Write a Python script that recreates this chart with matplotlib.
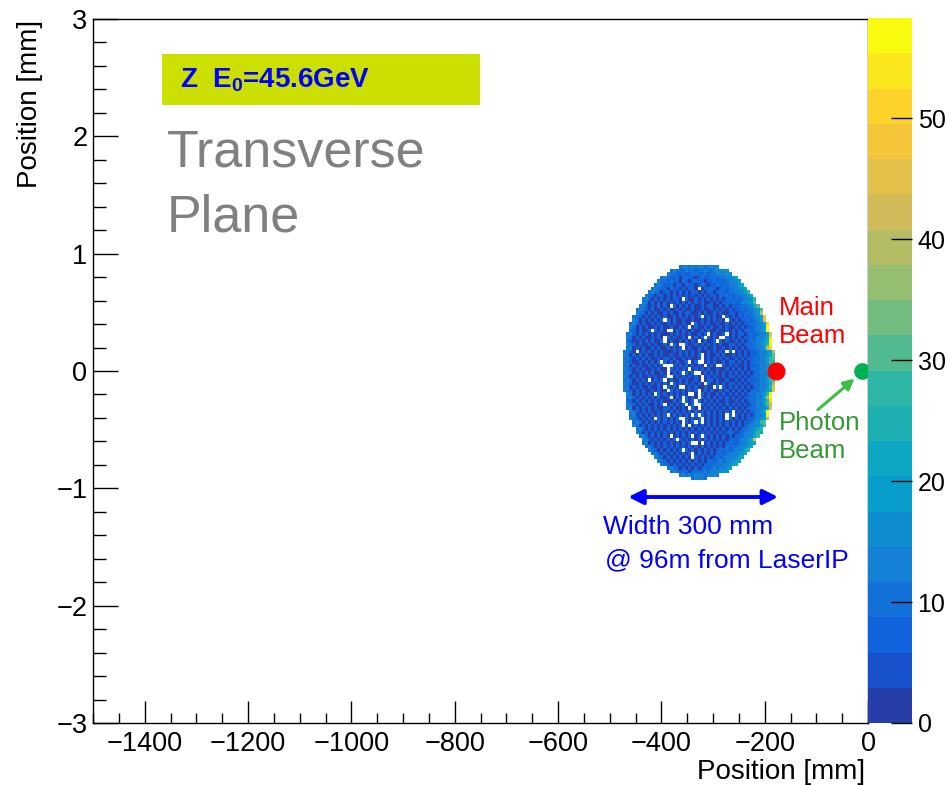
import numpy as np
import matplotlib
matplotlib.use('Agg')
import matplotlib.pyplot as plt
from matplotlib.colors import ListedColormap, BoundaryNorm, LinearSegmentedColormap
from matplotlib.patches import Rectangle

plt.rcParams['font.family'] = ['Liberation Sans', 'DejaVu Sans']
plt.rcParams['mathtext.fontset'] = 'custom'
plt.rcParams['mathtext.rm'] = 'Liberation Sans'
plt.rcParams['mathtext.bf'] = 'Liberation Sans:bold'

# ---------------- data ----------------
# 2D histogram binning (mm, mm)
x_edges = np.arange(-474, -173, 6)          # 49 columns of 6 mm
y_top, y_bin, n_rows = 0.90, 0.03, 61       # 61 rows of 0.03 mm, top row first

# cell code -> bin content ('.' = outside, '0' = empty bin)
code_values = {'.': 0, '0': 0, '1': 2, '2': 6.5, '3': 9.5, '4': 12, '5': 14, '6': 17,
               '7': 20, '8': 23, '9': 27, 'A': 32, 'B': 38, 'C': 44, 'D': 50, 'E': 56}

# bin contents read row by row (top -> bottom), 49 columns in 7 groups of 7
rows = [
    "....... ....... ....344 3434434 556.... ....... .......",
    "....... ....... .343324 3323343 345656. ....... .......",
    "....... ....... 4332232 2332332 3345566 ....... .......",
    "....... .....34 3223123 2212322 3323345 67..... .......",
    "....... ....433 2322132 1232212 2323234 567.... .......",
    "....... ...3432 2312213 2212321 2232334 4578... .......",
    "....... ..34322 1322121 2210122 3212323 34678.. .......",
    "....... .343212 2121312 1221212 2123223 345679. .......",
    "....... 4321221 2131212 1212121 2213232 2334578 .......",
    "......3 4212121 2122102 1121212 1212123 2323456 9......",
    "......4 3121212 1212121 2121211 2121222 3234567 A......",
    ".....34 2121312 1021212 1211212 2112121 2223345 8A.....",
    "....343 2121121 2112121 1211211 2121212 1223234 56A....",
    "....432 1212112 1211212 2112121 1212112 2122333 57B....",
    "...3321 2121212 1121212 1212012 1211021 2122323 468C...",
    "...4312 1212120 2121121 1211212 1212102 1212232 357C...",
    "..34212 1121211 2121121 1021212 1121121 2121223 3468D..",
    "..43121 2112121 1211212 0121121 2112121 1212122 3457E..",
    "..32121 1202121 0012121 1211212 1121121 2121232 3468E..",
    ".342121 2121211 1212121 2112120 1211201 2122123 23457C.",
    ".431212 1121210 2121121 0121202 1210021 2121223 24568D.",
    ".321121 2121120 1211212 1210121 1202121 1212123 34578E.",
    ".432121 1212112 1021002 1121212 1212112 2121232 34679E.",
    ".341212 1121211 2121201 2112121 1211212 1212123 3457BD.",
    "3421012 1212121 1121212 1212112 1212102 0121212 234567B",
    "4312121 2112121 1211212 1212012 1121211 2121212 234568A",
    "3421212 1211212 2121121 2112012 1212121 1212122 334579A",
    "4321121 2121202 1212112 0120012 1211212 2121212 3345799",
    "3412121 1212120 0021212 1212101 2100212 1211212 234568A",
    "4321212 1121211 0212121 0121212 1121121 2121212 334579A",
    "3421121 2121121 0121202 1200121 2121212 1212121 234569A",
    "4312121 1212112 0012121 2121012 1211212 2121212 3345689",
    "3421212 1012120 1211212 1121012 2121121 1212122 234579A",
    "4321121 2121212 1021212 1212102 1121212 2121212 334568B",
    "3412121 1211210 2121001 2121121 1020212 1212121 234569C",
    "4321212 1121211 0212121 2120121 2112121 2121212 334578C",
    ".431212 1210212 1212121 0010212 1121212 1212123 34579E.",
    ".342121 2121211 2012102 1210212 1212121 2121223 3458BE.",
    ".321212 1212121 1121202 1202121 2121121 1212123 34579D.",
    ".432121 2112120 1212120 1200212 1212121 2121212 3457AB.",
    ".341212 1212112 2121121 0210121 2121212 1212123 34568C.",
    "..43212 1211212 1212121 2121212 1212121 0121212 3468E..",
    "..34121 2121212 0121212 1020212 1212102 0212121 3457E..",
    "..43212 1210212 1212002 1212012 1212102 1212122 3467B..",
    "...3421 2121212 1212102 1202012 1212121 2121223 469A...",
    "...4312 1212121 2121201 0121212 1212121 2121234 5689...",
    "....342 1212121 2121212 1212121 2121212 1212345 689....",
    "....431 2121212 1212121 2121212 1212123 2123456 798....",
    ".....34 2121212 1012121 2012021 2121212 1223456 89.....",
    "......4 3212121 2120212 1212121 2121212 3234578 C......",
    "......3 4121212 1212121 2001012 1212123 2234567 8......",
    "....... 3421212 1212121 2121212 1212132 3345678 .......",
    "....... .432121 2121202 1212121 2123232 345689. .......",
    "....... ..34212 1212121 2012121 2123234 45678.. .......",
    "....... ...4321 2121212 1021212 1232345 5678... .......",
    "....... ....432 1212121 2121212 3234345 678.... .......",
    "....... .....43 2121212 1212123 2343456 78..... .......",
    "....... ....... 3432121 2121232 3434567 ....... .......",
    "....... ....... .343232 1232343 445676. ....... .......",
    "....... ....... ....343 4345434 565.... ....... .......",
    "....... ....... ....... .34543. ....... ....... .......",
]

z_max = 58.3
n_contours = 20
cbar_ticks = [0, 10, 20, 30, 40, 50]

x_ticks = [-1400, -1200, -1000, -800, -600, -400, -200, 0]
y_ticks = [-3, -2, -1, 0, 1, 2, 3]

main_beam = (-178, 0.0)
photon_beam = (-11.5, 0.0)
width_arrow = (-464, -174, -1.074)

# ---------------- build grid ----------------
ncol = len(x_edges) - 1
grid = []
for r in rows:
    s = r.replace(' ', '')
    s = s.ljust(ncol, '.')[:ncol]
    grid.append([code_values[c] for c in s])
Z = np.array(grid, dtype=float)
y_edges = y_top - y_bin * np.arange(n_rows + 1)
Zm = np.ma.masked_less_equal(Z, 0)

# ROOT kBird palette, 20 contour colours
stops = [0.0, 0.125, 0.25, 0.375, 0.5, 0.625, 0.75, 0.875, 1.0]
red = [0.2082, 0.0592, 0.0780, 0.0232, 0.1802, 0.5301, 0.8186, 0.9956, 0.9764]
green = [0.1664, 0.3599, 0.5041, 0.6419, 0.7178, 0.7492, 0.7328, 0.7862, 0.9832]
blue = [0.5293, 0.8684, 0.8385, 0.7914, 0.6425, 0.4662, 0.3499, 0.1968, 0.0539]
bird = LinearSegmentedColormap.from_list(
    'bird', [(s, (r, g, b)) for s, r, g, b in zip(stops, red, green, blue)], N=255)
band_cols = [bird(int((k + 0.99) * 255 / n_contours) / 254.0) for k in range(n_contours)]
cmap = ListedColormap(band_cols)
levels = np.linspace(0, z_max, n_contours + 1)
norm = BoundaryNorm(levels, cmap.N)

# ---------------- figure ----------------
W, H = 949, 785
fig = plt.figure(figsize=(W / 100, H / 100), dpi=100)
ax = fig.add_axes([93 / W, 1 - 723 / H, (868 - 93) / W, (723 - 19) / H])
cax = fig.add_axes([868 / W, 1 - 723 / H, (912 - 868) / W, (723 - 18) / H])

mesh = ax.pcolormesh(x_edges, y_edges, Zm, cmap=cmap, norm=norm,
                     shading='flat', edgecolors='none', antialiased=False)

ax.set_xlim(-1500, 0)
ax.set_ylim(-3, 3)
ax.set_xticks(x_ticks)
ax.set_xticklabels(['\u2212%d' % -v if v < 0 else '%d' % v for v in x_ticks])
ax.set_yticks(y_ticks)
ax.set_yticklabels(['\u2212%d' % -v if v < 0 else '%d' % v for v in y_ticks])
ax.set_xticks(np.arange(-1500, 1, 50), minor=True)
ax.set_yticks(np.arange(-3, 3.01, 0.2), minor=True)
ax.tick_params(axis='x', which='major', direction='in', length=15.5, width=1,
               labelsize=19.5, pad=6, top=False)
ax.tick_params(axis='x', which='minor', direction='in', length=7.5, width=1, top=False)
ax.tick_params(axis='y', which='major', direction='in', length=18, width=1,
               labelsize=19.5, pad=4, right=False)
ax.tick_params(axis='y', which='minor', direction='in', length=9, width=1, right=False)
for sp in ax.spines.values():
    sp.set_linewidth(1)

fig.text(865 / W, 1 - 779 / H, 'Position [mm]', ha='right', va='baseline', fontsize=20)
fig.text(30 / W, 1 - 20 / H, 'Position [mm]', ha='center', va='top', rotation=90, fontsize=20)

# colour bar
cb = fig.colorbar(mesh, cax=cax, ticks=cbar_ticks, spacing='proportional')
cb.outline.set_visible(False)
cax.tick_params(axis='y', direction='in', length=15, width=1, labelsize=18, pad=4,
                color='black')
cax.minorticks_off()

# annotations
ax.add_patch(Rectangle((-1366.5, 2.265), 615.5, 0.435, facecolor='#CCE000',
                       edgecolor='none', zorder=3))
ax.text(-1331, 2.48, r'Z  E$_{\mathbf{0}}$=45.6GeV', color='#0000FF', fontsize=20,
        fontweight='bold', ha='left', va='center', zorder=4)
ax.text(-1357, 1.739, 'Transverse', color='#808080', fontsize=37.5, ha='left', va='baseline')
ax.text(-1357, 1.185, 'Plane', color='#808080', fontsize=37.5, ha='left', va='baseline')

ax.plot(*main_beam, 'o', color='#FF0000', ms=13, mec='none', zorder=5)
ax.plot(*photon_beam, 'o', color='#00B050', ms=12, mec='none', zorder=5, clip_on=False)
ax.text(-172, 0.42, 'Main\nBeam', color='#FF0000', fontsize=18.5, ha='left', va='center')
ax.text(-172, -0.563, 'Photon\nBeam', color='#339933', fontsize=18.5, ha='left', va='center')
ax.annotate('', xy=(-26, -0.065), xytext=(-97, -0.33),
            arrowprops=dict(arrowstyle='-|>', color='#3DBF45', lw=2.2, mutation_scale=16,
                            shrinkA=0, shrinkB=0))

x0, x1, ya = width_arrow
ax.annotate('', xy=(x0, ya), xytext=(x1, ya),
            arrowprops=dict(arrowstyle='<|-|>', color='#0000FF', lw=2.8, mutation_scale=22,
                            shrinkA=0, shrinkB=0))
ax.text(-513, -1.33, 'Width 300 mm', color='#0000FF', fontsize=19, ha='left', va='center')
ax.text(-509, -1.61, '@ 96m from LaserIP', color='#0000FF', fontsize=19, ha='left', va='center')

fig.savefig('out.png', dpi=100)
